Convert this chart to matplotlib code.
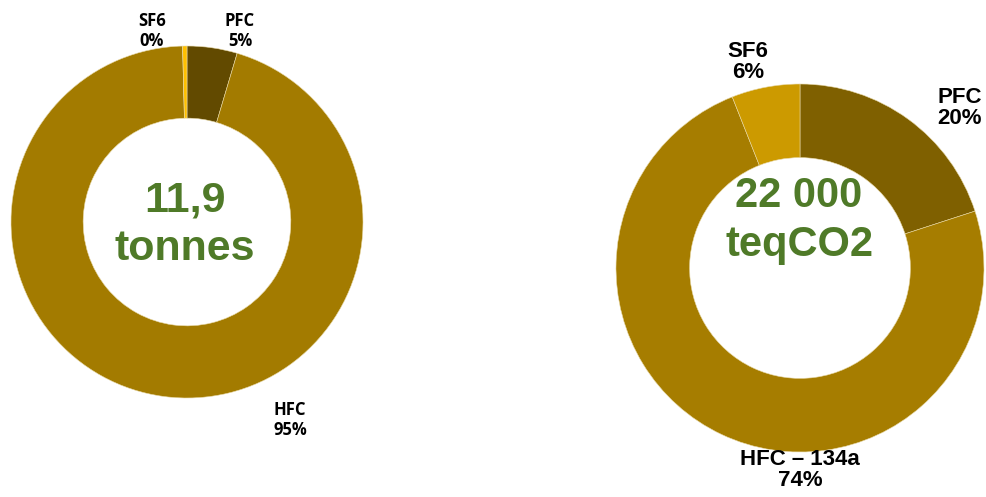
import matplotlib.pyplot as plt

W, H = 987, 497

# left donut: masse (tonnes)
left_labels = ["PFC", "HFC", "SF6"]
left_values = [4.6, 95.0, 0.4]
left_colors = ["#624A00", "#A37B00", "#FFC000"]
left_total = ["11,9", "tonnes"]

# right donut: teqCO2
right_labels = ["PFC", "HFC – 134a", "SF6"]
right_values = [20, 74, 6]
right_colors = ["#7F6000", "#A67D00", "#CC9A00"]
right_total = ["22 000", "teqCO2"]

GREEN = "#4F7A28"


def pct(v):
    return f"{round(v):d}%"


fig = plt.figure(figsize=(W / 100, H / 100), dpi=100)
ax = fig.add_axes([0, 0, 1, 1])

# left
r1 = 176
ax.pie(
    left_values,
    colors=left_colors,
    startangle=90,
    counterclock=False,
    radius=r1,
    center=(187, H - 222),
    wedgeprops=dict(width=r1 * 0.41, edgecolor="#E8D9A8", linewidth=0.4),
    frame=True,
)

left_pos = [(240, H - 31), (290, H - 420), (152, H - 31)]
for name, v, (x, y) in zip(left_labels, left_values, left_pos):
    ax.text(x, y, f"{name}\n{pct(v)}", ha="center", va="center",
            fontsize=12, fontweight="bold", family="Open Sans",
            linespacing=1.2, color="black")

# right
r2 = 184
ax.pie(
    right_values,
    colors=right_colors,
    startangle=90,
    counterclock=False,
    radius=r2,
    center=(800, H - 268),
    wedgeprops=dict(width=r2 * 0.40, edgecolor="#E8D9A8", linewidth=0.4),
    frame=True,
)

right_pos = [(960, H - 108), (800, H - 470), (748, H - 62)]
for name, v, (x, y) in zip(right_labels, right_values, right_pos):
    ax.text(x, y, f"{name}\n{pct(v)}", ha="center", va="center",
            fontsize=16, fontweight="bold", family="Liberation Sans",
            linespacing=1.05, color="black")

ax.set_xlim(0, W)
ax.set_ylim(0, H)
ax.set_aspect("equal")
ax.axis("off")

ax.text(185, H - 201, left_total[0], ha="center", va="center",
        fontsize=31, fontweight="bold", family="Liberation Sans", color=GREEN)
ax.text(185, H - 249, left_total[1], ha="center", va="center",
        fontsize=31, fontweight="bold", family="Liberation Sans", color=GREEN)
ax.text(799, H - 196, right_total[0], ha="center", va="center",
        fontsize=30, fontweight="bold", family="Liberation Sans", color=GREEN)
ax.text(799, H - 245, right_total[1], ha="center", va="center",
        fontsize=30, fontweight="bold", family="Liberation Sans", color=GREEN)

fig.savefig("out.png", dpi=100)
